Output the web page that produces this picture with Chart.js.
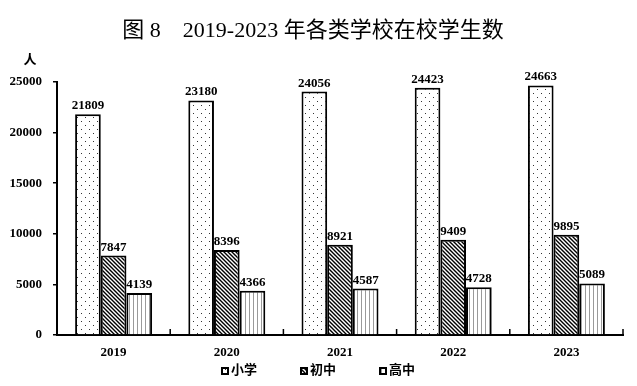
<!DOCTYPE html>
<html><head><meta charset="utf-8">
<script src="https://cdn.jsdelivr.net/npm/chart.js@4.4.1/dist/chart.umd.min.js"></script>
<style>html,body{margin:0;padding:0;background:#fff}#wrap{width:637px;height:386px;position:relative}</style>
</head><body><div id="wrap"><canvas id="c" width="637" height="386"></canvas></div>
<script>
const titleText = '图 8　2019-2023 年各类学校在校学生数';
const unitLabel = '人';
const years = ['2019', '2020', '2021', '2022', '2023'];
const seriesNames = ['小学', '初中', '高中'];
const primary = [21809, 23180, 24056, 24423, 24663];
const junior = [7847, 8396, 8921, 9409, 9895];
const senior = [4139, 4366, 4587, 4728, 5089];
const yMin = 0, yMax = 25000, yStep = 5000;

const SERIF = '"Liberation Serif", "Noto Sans CJK SC", serif';
const CJK = '"Liberation Serif", "Noto Sans CJK SC", sans-serif';

const canvas = document.getElementById('c');
const ctx = canvas.getContext('2d');

function makePattern(kind) {
  const c = document.createElement('canvas');
  const x = c.getContext('2d');
  if (kind === 'dots') {
    c.width = 8; c.height = 8;
    x.fillStyle = '#fff'; x.fillRect(0, 0, 8, 8);
    x.fillStyle = '#333'; x.fillRect(1, 1, 1, 1); x.fillRect(5, 5, 1, 1);
  } else if (kind === 'diag') {
    c.width = 4; c.height = 4;
    x.fillStyle = '#fff'; x.fillRect(0, 0, 4, 4);
    x.strokeStyle = '#000'; x.lineWidth = 1.4;
    x.beginPath();
    x.moveTo(-1, -1); x.lineTo(5, 5);
    x.moveTo(3, -1); x.lineTo(5, 1);
    x.moveTo(-1, 3); x.lineTo(1, 5);
    x.stroke();
  } else {
    c.width = 4; c.height = 4;
    x.fillStyle = '#fff'; x.fillRect(0, 0, 4, 4);
    x.fillStyle = '#9a9a9a'; x.fillRect(1, 0, 1, 4);
  }
  return ctx.createPattern(c, 'repeat');
}
const fills = [makePattern('dots'), makePattern('diag'), makePattern('vert')];

const extras = {
  id: 'extras',
  afterDatasetsDraw(chart) {
    const c = chart.ctx;
    c.save();
    // inward category tick marks on x axis
    const xs = chart.scales.x, area = chart.chartArea;
    const n = chart.data.labels.length;
    c.strokeStyle = '#000'; c.lineWidth = 1.5;
    c.beginPath();
    for (let k = 1; k <= n; k++) {
      const px = (xs.getPixelForValue(k - 1) + (k < n ? xs.getPixelForValue(k) : 2 * xs.getPixelForValue(k - 1) - xs.getPixelForValue(k - 2))) / 2;
      c.moveTo(px, area.bottom); c.lineTo(px, area.bottom - 6);
    }
    c.stroke();
    // data labels
    c.fillStyle = '#000';
    c.font = 'bold 13px ' + SERIF;
    c.textAlign = 'center';
    c.textBaseline = 'alphabetic';
    chart.data.datasets.forEach((ds, i) => {
      chart.getDatasetMeta(i).data.forEach((bar, j) => {
        c.fillText(String(ds.data[j]), bar.x, bar.y - 5);
      });
    });
    // title
    c.font = '22px ' + CJK;
    c.textBaseline = 'middle';
    c.fillText(titleText, 313, 31);
    // unit
    c.font = 'bold 13px ' + CJK;
    c.fillText(unitLabel, 30, 61);
    // legend
    c.font = 'bold 13px ' + CJK;
    c.textAlign = 'left';
    const box = 8, gapBT = 2, gapItems = 43;
    const widths = chart.data.datasets.map(ds => box + gapBT + c.measureText(ds.label).width);
    const total = widths.reduce((a, b) => a + b, 0) + gapItems * (widths.length - 1);
    let x = 318 - total / 2;
    const ly = 371;
    chart.data.datasets.forEach((ds, i) => {
      c.fillStyle = ds.backgroundColor;
      c.fillRect(x, ly - box / 2, box, box);
      c.strokeStyle = '#000'; c.lineWidth = 2;
      c.strokeRect(x + 1, ly - box / 2 + 1, box - 2, box - 2);
      c.fillStyle = '#000';
      c.fillText(ds.label, x + box + gapBT, ly);
      x += widths[i] + gapItems;
    });
    c.restore();
  }
};

new Chart(ctx, {
  type: 'bar',
  data: {
    labels: years,
    datasets: [primary, junior, senior].map((d, i) => ({
      label: seriesNames[i],
      data: d,
      backgroundColor: fills[i],
      borderColor: '#000',
      borderWidth: 2,
      borderSkipped: 'bottom',
      categoryPercentage: 0.68,
      barPercentage: 1.0
    }))
  },
  options: {
    responsive: false,
    animation: false,
    layout: { padding: { left: 0, right: 14, top: 82, bottom: 0 } },
    plugins: { legend: { display: false }, title: { display: false }, tooltip: { enabled: false } },
    scales: {
      x: {
        grid: { display: false, drawTicks: false },
        border: { display: true, color: '#000', width: 2 },
        ticks: { color: '#000', font: { family: SERIF, size: 13, weight: 'bold' }, padding: 10, maxRotation: 0 },
        afterFit(s) { s.height = 51; }
      },
      y: {
        min: yMin, max: yMax,
        grid: { display: true, drawOnChartArea: false, drawTicks: true, tickLength: 4, color: '#000', lineWidth: 1.5 },
        border: { display: true, color: '#000', width: 2 },
        ticks: { stepSize: yStep, color: '#000', font: { family: SERIF, size: 13, weight: 'bold' }, padding: 11,
                 callback: v => String(v) },
        afterFit(s) { s.width = 57; }
      }
    }
  },
  plugins: [extras]
});
</script>
</body></html>
